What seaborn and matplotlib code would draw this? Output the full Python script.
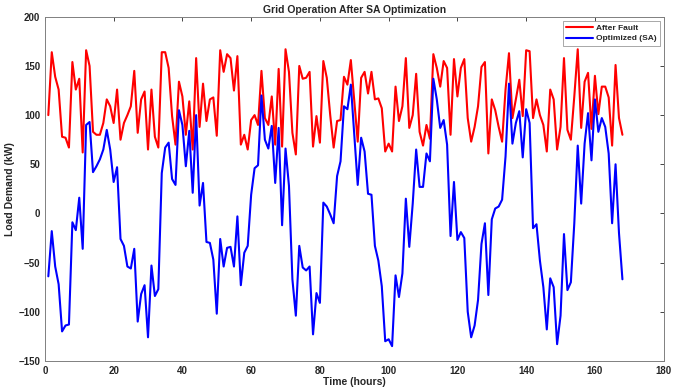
import numpy as np
import pandas as pd
import matplotlib
matplotlib.use("Agg")
import matplotlib.pyplot as plt
import seaborn as sns

# Load values (kW), one per hour
hours = list(range(1, 169))

after_fault = [
    100, 164, 139, 126, 78, 77, 67, 154, 126, 137, 62, 166, 150, 83, 80, 80, 92, 116, 109, 92,
    126, 75, 92, 100, 109, 145, 82, 116, 124, 65, 126, 78, 67, 164, 164, 148, 99, 70, 134, 119,
    80, 114, 65, 158, 88, 132, 94, 116, 118, 79, 166, 144, 162, 158, 125, 160, 70, 80, 65, 95,
    100, 90, 145, 97, 90, 119, 70, 147, 68, 167, 144, 82, 60, 150, 137, 138, 144, 68, 99, 72,
    155, 138, 100, 67, 94, 95, 139, 131, 156, 114, 73, 138, 144, 122, 144, 116, 117, 107, 63, 71,
    63, 129, 94, 109, 158, 87, 100, 142, 83, 69, 90, 76, 162, 148, 129, 155, 148, 80, 157, 119,
    148, 157, 97, 73, 88, 109, 149, 154, 61, 116, 105, 88, 73, 126, 163, 97, 116, 136, 99, 166,
    165, 97, 116, 100, 90, 63, 126, 116, 65, 88, 158, 85, 75, 119, 167, 87, 134, 143, 86, 140,
    101, 129, 129, 118, 69, 151, 97, 80,
]

optimized_sa = [
    -64, -18, -54, -72, -120, -114, -113, -9, -17, 16, -36, 90, 93, 42, 48, 55, 65, 85, 65, 32,
    47, -26, -33, -54, -56, -36, -110, -82, -73, -126, -53, -84, -77, 41, 67, 72, 35, 29, 105, 90,
    48, 84, 21, 100, 8, 31, -29, -30, -47, -102, -26, -54, -35, -34, -54, -3, -73, -40, -33, 19,
    46, 49, 120, 75, 66, 89, 31, 87, -12, 66, 28, -67, -104, -33, -55, -58, -54, -123, -81, -91,
    11, 7, -1, -10, 38, 53, 109, 106, 131, 80, 29, 77, 63, 20, 19, -33, -48, -74, -130, -128,
    -135, -63, -85, -61, 15, -34, 10, 65, 27, 27, 61, 53, 137, 116, 87, 95, 70, -23, 32, -27,
    -19, -25, -100, -126, -114, -88, -31, -10, -83, -6, 5, 7, 14, 58, 132, 71, 92, 104, 57, 106,
    92, -15, -11, -48, -75, -118, -66, -75, -133, -104, -21, -78, -70, -10, 69, 10, 71, 102, 54, 116,
    83, 97, 88, 61, -10, 50, -20, -67,
]

series_names = ["After Fault", "Optimized (SA)"]
colors = {"After Fault": "#ff0000", "Optimized (SA)": "#0000ff"}

df = pd.concat([
    pd.DataFrame({"Time": hours, "Load": after_fault, "Series": series_names[0]}),
    pd.DataFrame({"Time": hours, "Load": optimized_sa, "Series": series_names[1]}),
])

sns.set_style("white")
plt.rcParams["font.family"] = ["Liberation Sans", "DejaVu Sans"]

fig = plt.figure(figsize=(6.8, 3.91), dpi=100)
ax = fig.add_axes([0.066, 0.077, 0.91, 0.88])

sns.lineplot(data=df, x="Time", y="Load", hue="Series", palette=colors,
             linewidth=1.5, ax=ax)

ax.set_xlim(0, 180)
ax.set_ylim(-150, 200)
ax.set_xticks(np.arange(0, 181, 20))
ax.set_yticks(np.arange(-150, 201, 50))
ax.tick_params(direction="in", top=True, right=True, length=3,
               labelsize=7, colors="#262626", width=0.6)
for lbl in ax.get_xticklabels() + ax.get_yticklabels():
    lbl.set_fontweight("bold")
for s in ax.spines.values():
    s.set_color("#808080")
    s.set_linewidth(0.7)

ax.set_title("Grid Operation After SA Optimization", fontsize=7.5,
             fontweight="bold", pad=3)
ax.set_xlabel("Time (hours)", fontsize=7.5, fontweight="bold", labelpad=1)
ax.set_ylabel("Load Demand (kW)", fontsize=7.5, fontweight="bold", labelpad=2)

leg = ax.legend(loc="upper right", fontsize=6, frameon=True, fancybox=False,
                handlelength=3.2, borderpad=0.4, labelspacing=0.3,
                handletextpad=0.3, prop={"weight": "bold", "size": 6})
leg.get_frame().set_edgecolor("#808080")
leg.get_frame().set_linewidth(0.6)

fig.savefig("out.png", dpi=100)
